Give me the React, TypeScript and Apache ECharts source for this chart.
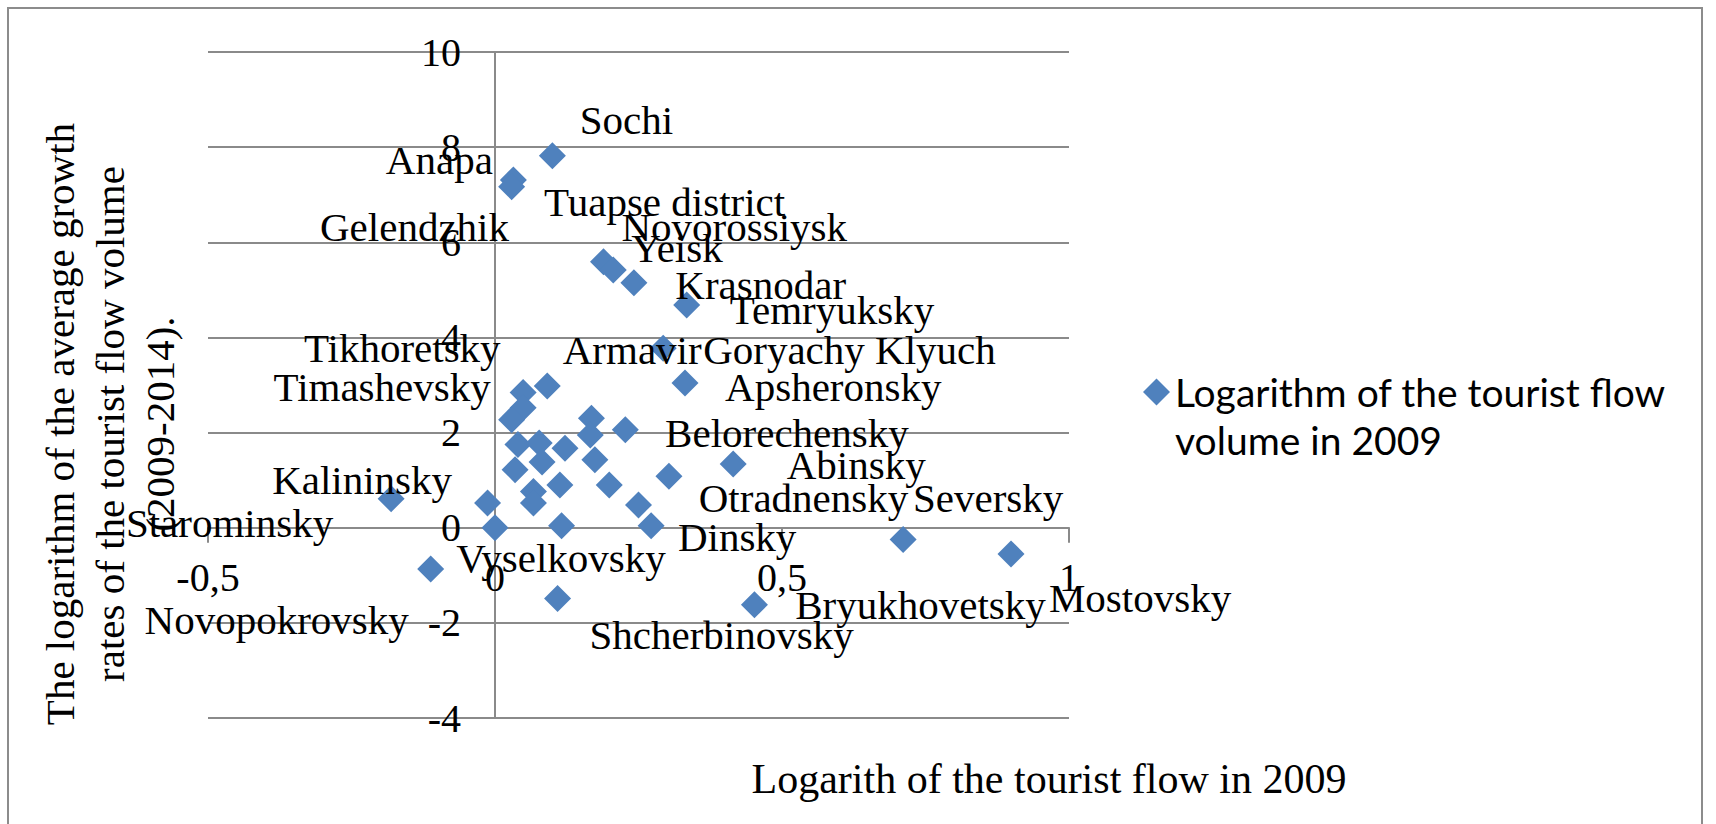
import React, { useEffect, useRef } from "react";
import * as echarts from "echarts";

// ---- data ----
const pointNames = [
  "Sochi", "Anapa", "Tuapse district", "Gelendzhik", "Novorossiysk", "Yeisk", "Krasnodar",
  "Armavir", "Temryuksky", "Timashevsky", "Tikhoretsky", "", "", "Goryachy Klyuch", "",
  "Apsheronsky", "", "", "", "", "", "", "", "", "", "", "Belorechensky", "Starominsky",
  "Vyselkovsky", "", "Otradnensky", "Dinsky", "Abinsky", "Kalininsky", "Novopokrovsky",
  "Shcherbinovsky", "Bryukhovetsky", "Seversky", "Mostovsky",
];
const xValues = [
  0.10, 0.032, 0.029, 0.189, 0.206, 0.242, 0.334, 0.293, 0.331, 0.049, 0.091, 0.049, 0.029,
  0.168, 0.166, 0.227, 0.040, 0.077, 0.122, 0.174, 0.082, 0.035, 0.113, 0.067, 0.067, 0.199,
  0.303, -0.013, 0.0, 0.116, 0.25, 0.272, 0.415, -0.181, -0.112, 0.109, 0.452, 0.711, 0.899,
];
const yValues = [
  7.82, 7.31, 7.17, 5.59, 5.42, 5.15, 4.68, 3.77, 3.04, 2.84, 2.98, 2.52, 2.27, 2.30, 1.95,
  2.06, 1.75, 1.78, 1.67, 1.43, 1.38, 1.22, 0.90, 0.76, 0.52, 0.90, 1.08, 0.52, 0.0, 0.04,
  0.48, 0.04, 1.34, 0.61, -0.87, -1.49, -1.62, -0.25, -0.55,
];
const xTicks = { min: -0.5, max: 1, interval: 0.5 };
const yTicks = { min: -4, max: 10, interval: 2 };
const seriesName = "Logarithm of the tourist flow\nvolume in 2009";
const xTitle = "Logarith of the tourist flow in 2009";
const yTitle = "The logarithm of the average growth\nrates of the tourist flow volume\n(2009-2014).";

// label placement relative to each point (styling only)
const labelOffsets: Record<string, [number, number]> = {
  Sochi: [74, -36], Anapa: [-74, -20], "Tuapse district": [153, 15], Gelendzhik: [-189, -35],
  Novorossiysk: [121, -43], Yeisk: [43, -35], Krasnodar: [74, -20], Armavir: [-31, 2],
  Temryuksky: [147, -73], Timashevsky: [-141, -6], Tikhoretsky: [-145, -38],
  "Goryachy Klyuch": [258, -68], Apsheronsky: [208, -43], Belorechensky: [118, -43],
  Starominsky: [-258, 20], Vyselkovsky: [66, 30], Otradnensky: [165, -7], Dinsky: [86, 11],
  Abinsky: [123, 1], Kalininsky: [-29, -19], Novopokrovsky: [-154, 51],
  Shcherbinovsky: [164, 36], Bryukhovetsky: [166, 0], Seversky: [85, -42], Mostovsky: [129, 44],
};

const SERIF = "'Liberation Serif', 'Times New Roman', serif";
const GRID_COLOR = "#8a8a8a";
const GRID = { left: 208, right: 647, top: 52, bottom: 106 };
const W = 1716;
const H = 824;

export default function App() {
  const ref = useRef<HTMLDivElement>(null);
  useEffect(() => {
    document.body.style.margin = "0";
    if (!ref.current) return;
    const chart = echarts.init(ref.current, null, { renderer: "svg" });
    const gridW = W - GRID.left - GRID.right;
    const gridH = H - GRID.top - GRID.bottom;
    // shift axes so they cross at zero (as in the reference)
    const xAxisOffset = -gridH * (0 - yTicks.min) / (yTicks.max - yTicks.min);
    const yAxisOffset = -gridW * (0 - xTicks.min) / (xTicks.max - xTicks.min);
    const data = xValues.map((x, i) => {
      const name = pointNames[i];
      return { name: name || `point ${i + 1}`, value: [x, yValues[i]], label: { show: !!name } };
    });
    chart.setOption({
      animation: false,
      backgroundColor: "#ffffff",
      grid: { ...GRID, containLabel: false },
      xAxis: {
        type: "value",
        position: "bottom",
        offset: xAxisOffset,
        min: xTicks.min,
        max: xTicks.max,
        interval: xTicks.interval,
        axisLine: { show: true, onZero: false, lineStyle: { color: GRID_COLOR, width: 2 } },
        axisTick: { show: true, length: 15, lineStyle: { color: GRID_COLOR, width: 2 } },
        splitLine: { show: false },
        axisLabel: {
          margin: 30,
          color: "#000",
          fontFamily: SERIF,
          fontSize: 40,
          formatter: (v: number) => String(v).replace(".", ","),
        },
      },
      yAxis: {
        type: "value",
        position: "left",
        offset: yAxisOffset,
        min: yTicks.min,
        max: yTicks.max,
        interval: yTicks.interval,
        axisLine: { show: true, onZero: false, lineStyle: { color: GRID_COLOR, width: 2 } },
        axisTick: { show: false },
        splitLine: { show: true, lineStyle: { color: GRID_COLOR, width: 2 } },
        axisLabel: { margin: 34, color: "#000", fontFamily: SERIF, fontSize: 40 },
      },
      legend: {
        show: true,
        data: [{ name: seriesName, icon: "diamond" }],
        orient: "vertical",
        left: 1143,
        top: 320,
        padding: 0,
        itemWidth: 27,
        itemHeight: 27,
        formatter: (name: string) => "\n" + name,
        textStyle: {
          fontFamily: "Lato, 'Open Sans', sans-serif",
          fontSize: 39,
          lineHeight: 48,
          color: "#000",
        },
      },
      series: [
        {
          type: "scatter",
          name: seriesName,
          symbol: "diamond",
          symbolSize: 27,
          itemStyle: { color: "#4F81BD", opacity: 1 },
          label: {
            show: false,
            position: "inside",
            formatter: (p: any) => pointNames[p.dataIndex],
            color: "#000",
            fontFamily: SERIF,
            fontSize: 41,
          },
          labelLayout: (p: any) => {
            const off = labelOffsets[pointNames[p.dataIndex]] || [0, 0];
            return { dx: off[0], dy: off[1] };
          },
          data,
        },
      ],
      graphic: [
        {
          type: "rect",
          shape: { x: 8, y: 8, width: 1694, height: 840 },
          style: { fill: "none", stroke: "#8c8c8c", lineWidth: 2 },
          silent: true,
        },
        {
          type: "text",
          x: 110,
          y: 424,
          rotation: Math.PI / 2,
          style: {
            text: yTitle,
            fontFamily: SERIF,
            fontSize: 41,
            lineHeight: 50,
            align: "center",
            verticalAlign: "middle",
            fill: "#000",
          },
        },
        {
          type: "text",
          x: 1049,
          y: 779,
          style: {
            text: xTitle,
            fontFamily: SERIF,
            fontSize: 42,
            align: "center",
            verticalAlign: "middle",
            fill: "#000",
          },
        },
      ],
    });
    return () => chart.dispose();
  }, []);
  return <div ref={ref} style={{ width: W, height: H }} />;
}
